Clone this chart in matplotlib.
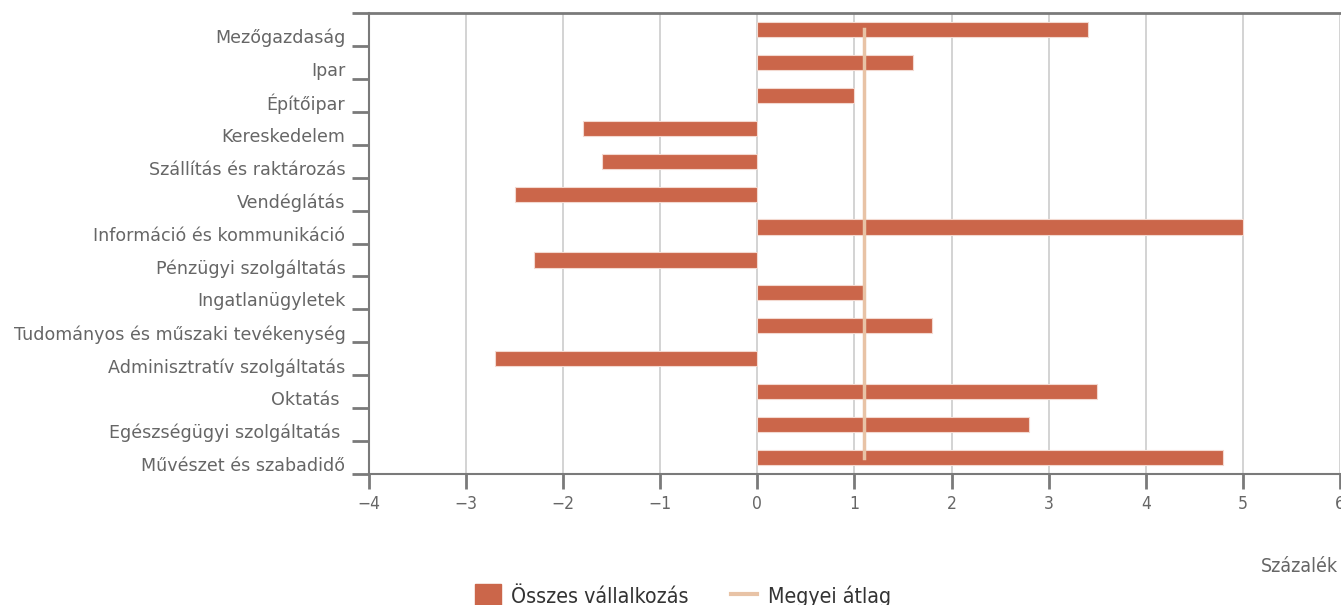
import matplotlib
matplotlib.use("Agg")
import matplotlib.pyplot as plt
from matplotlib.patches import Patch
from matplotlib.lines import Line2D
import numpy as np

categories = [
    "Mezőgazdaság", "Ipar", "Építőipar", "Kereskedelem",
    "Szállítás és raktározás", "Vendéglátás", "Információ és kommunikáció",
    "Pénzügyi szolgáltatás", "Ingatlanügyletek",
    "Tudományos és műszaki tevékenység", "Adminisztratív szolgáltatás",
    "Oktatás ", "Egészségügyi szolgáltatás ", "Művészet és szabadidő",
]
osszes = [3.4, 1.6, 1.0, -1.8, -1.6, -2.5, 5.0, -2.3, 1.1, 1.8, -2.7, 3.5, 2.8, 4.8]
megyei = [1.1] * 14
xticks = [-4, -3, -2, -1, 0, 1, 2, 3, 4, 5, 6]
xticklabels = ["−4", "−3", "−2", "−1", "0", "1", "2", "3", "4", "5", "6"]

BAR = "#cb664a"
LINE = "#e8c3a6"
TXT = "#666666"
AX = "#7a7a7a"

fig = plt.figure(figsize=(13.41, 6.05), dpi=100)
ax = fig.add_axes([369 / 1341, 1 - 474 / 605, (1340 - 369) / 1341, (474 - 13) / 605])

pos = np.arange(len(categories))
ax.barh(pos, osszes, height=0.46, color=BAR, edgecolor="#f3d9d0", linewidth=0.8, zorder=3)
ax.plot(megyei, pos, color=LINE, linewidth=2.5, zorder=4)

ax.set_xlim(-4, 6)
ax.set_ylim(len(categories) - 0.5, -0.5)

ax.set_xticks(xticks)
ax.set_xticklabels(xticklabels, family="DejaVu Sans", stretch="condensed", fontsize=12.5, color=TXT)
ax.grid(axis="x", color="#cccccc", linewidth=1.2, zorder=0)
ax.tick_params(axis="x", length=11, width=2, color=AX, pad=4)

ax.set_yticks(pos + 0.2)
ax.set_yticklabels(categories, fontsize=12.6, color=TXT, family="DejaVu Sans")
ax.tick_params(axis="y", which="major", length=0, pad=17)
ax.set_yticks(np.arange(len(categories) + 1) - 0.5, minor=True)
ax.tick_params(axis="y", which="minor", length=12, width=2, color=AX)

for s in ["left", "bottom", "top"]:
    ax.spines[s].set_color(AX)
    ax.spines[s].set_linewidth(1.5)
ax.spines["right"].set_visible(False)
ax.spines["top"].set_linewidth(2)

fig.text(1338 / 1341, 1 - 566 / 605, "Százalék", ha="right", va="center",
         family="DejaVu Sans", stretch="condensed", fontsize=14, color=TXT)

handles = [Patch(facecolor=BAR, edgecolor=BAR), Line2D([0], [0], color=LINE, linewidth=3)]
fig.legend(handles, ["Összes vállalkozás", "Megyei átlag"], loc="center",
           bbox_to_anchor=(683 / 1341, 1 - 596 / 605), ncol=2, frameon=False,
           prop={"family": "DejaVu Sans", "stretch": "condensed", "size": 15.3}, labelcolor="#333333",
           handlelength=1.2, handleheight=1.3, columnspacing=2.0, handletextpad=0.5)

fig.savefig("out.png", dpi=100)
